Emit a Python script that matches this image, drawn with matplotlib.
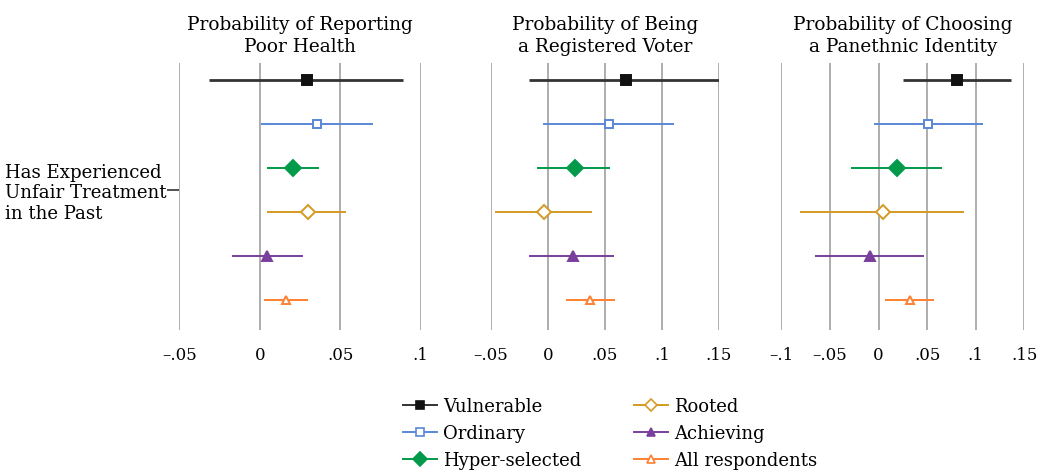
import matplotlib
matplotlib.use("Agg")
import matplotlib.pyplot as plt
from matplotlib.lines import Line2D

plt.rcParams['font.family'] = ['DejaVu Serif']

groups = ["Vulnerable", "Ordinary", "Hyper-selected", "Rooted", "Achieving", "All respondents"]
colors = ["#111111", "#5a88d6", "#009a4a", "#d49a22", "#7a3f9c", "#ff8030"]
line_colors = ["#333333", "#5a88d6", "#009a4a", "#d49a22", "#7a3f9c", "#ff8030"]
markers = ["s", "s", "D", "D", "^", "^"]
filled = [True, False, True, False, True, False]
msizes = [7.2, 6.2, 8.5, 7.5, 7.0, 6.2]

titles = ["Probability of Reporting\nPoor Health",
          "Probability of Being\na Registered Voter",
          "Probability of Choosing\na Panethnic Identity"]

# Panel 1: Poor health
health_est = [0.0295, 0.0358, 0.0208, 0.0297, 0.0047, 0.0163]
health_lo = [-0.0316, 0.0008, 0.0048, 0.0048, -0.0173, 0.0028]
health_hi = [0.0892, 0.0705, 0.0366, 0.0537, 0.0269, 0.0297]

# Panel 2: Registered voter
voter_est = [0.0685, 0.0536, 0.0238, -0.0031, 0.0218, 0.0372]
voter_lo = [-0.0165, -0.0039, -0.0092, -0.0463, -0.0162, 0.0157]
voter_hi = [0.1531, 0.1103, 0.0542, 0.0390, 0.0583, 0.0591]

# Panel 3: Panethnic identity
pan_est = [0.0808, 0.0506, 0.0187, 0.0046, -0.0084, 0.0327]
pan_lo = [0.0249, -0.0043, -0.0280, -0.0808, -0.0650, 0.0070]
pan_hi = [0.1360, 0.1078, 0.0650, 0.0880, 0.0465, 0.0574]

ticks1 = [-0.05, 0, 0.05, 0.1]
ticks2 = [-0.05, 0, 0.05, 0.1, 0.15]
ticks3 = [-0.1, -0.05, 0, 0.05, 0.1, 0.15]
ticklabels1 = ["\u2013.05", "0", ".05", ".1"]
ticklabels2 = ["\u2013.05", "0", ".05", ".1", ".15"]
ticklabels3 = ["\u2013.1", "\u2013.05", "0", ".05", ".1", ".15"]

ylabel = "Has Experienced\nUnfair Treatment\nin the Past"

panels = [
    (health_est, health_lo, health_hi, ticks1, ticklabels1),
    (voter_est, voter_lo, voter_hi, ticks2, ticklabels2),
    (pan_est, pan_lo, pan_hi, ticks3, ticklabels3),
]

fig = plt.figure(figsize=(10.43, 4.74), dpi=100)
W, H = 1043, 474
boxes = [(179.3, 420.7), (490.7, 719.0), (781.3, 1024.3)]
top, bottom = 63, 330

handles = []
for p, ((est, lo, hi, ticks, tlabels), (x0, x1)) in enumerate(zip(panels, boxes)):
    ax = fig.add_axes([x0 / W, 1 - bottom / H, (x1 - x0) / W, (bottom - top) / H])
    for t in ticks:
        ax.axvline(t, color="#a0a0a0", lw=1.2, zorder=0)
    for i in range(len(groups)):
        lw = 2.0 if i == 0 else 1.4
        ax.plot([lo[i], hi[i]], [i, i], color=line_colors[i], lw=lw, zorder=2,
                solid_capstyle="butt")
        ax.plot([est[i]], [i], marker=markers[i], ms=msizes[i], linestyle="none",
                mfc=colors[i] if filled[i] else "white",
                mec=colors[i], mew=1.4, zorder=3)
        if p == 0:
            handles.append(Line2D([0], [0], color=line_colors[i], lw=1.4, marker=markers[i],
                                  ms=msizes[i] * 0.85, mfc=colors[i] if filled[i] else "white",
                                  mec=colors[i], mew=1.2))
    ax.set_xlim(ticks[0], ticks[-1])
    ax.set_ylim(5 + 30 / 44, -17 / 44)
    ax.set_xticks(ticks)
    ax.set_xticklabels(tlabels, fontsize=12)
    ax.tick_params(axis="x", length=0, pad=12)
    for s in ax.spines.values():
        s.set_visible(False)
    if p == 0:
        ax.set_yticks([2.5])
        ax.set_yticklabels([ylabel], fontsize=13.1, multialignment="left", linespacing=1.2)
        ax.tick_params(axis="y", length=9, width=1.2, color="#333333", pad=0)
    else:
        ax.set_yticks([])
    ax.set_title(titles[p], fontsize=13.3, pad=8, linespacing=1.25)

fig.legend(handles, groups, ncol=2,
           loc="lower center", bbox_to_anchor=(0.585, -0.025), frameon=False,
           fontsize=13, handlelength=1.9, handletextpad=0.35, columnspacing=2.9,
           labelspacing=0.5)

fig.savefig("out.png", dpi=100)
